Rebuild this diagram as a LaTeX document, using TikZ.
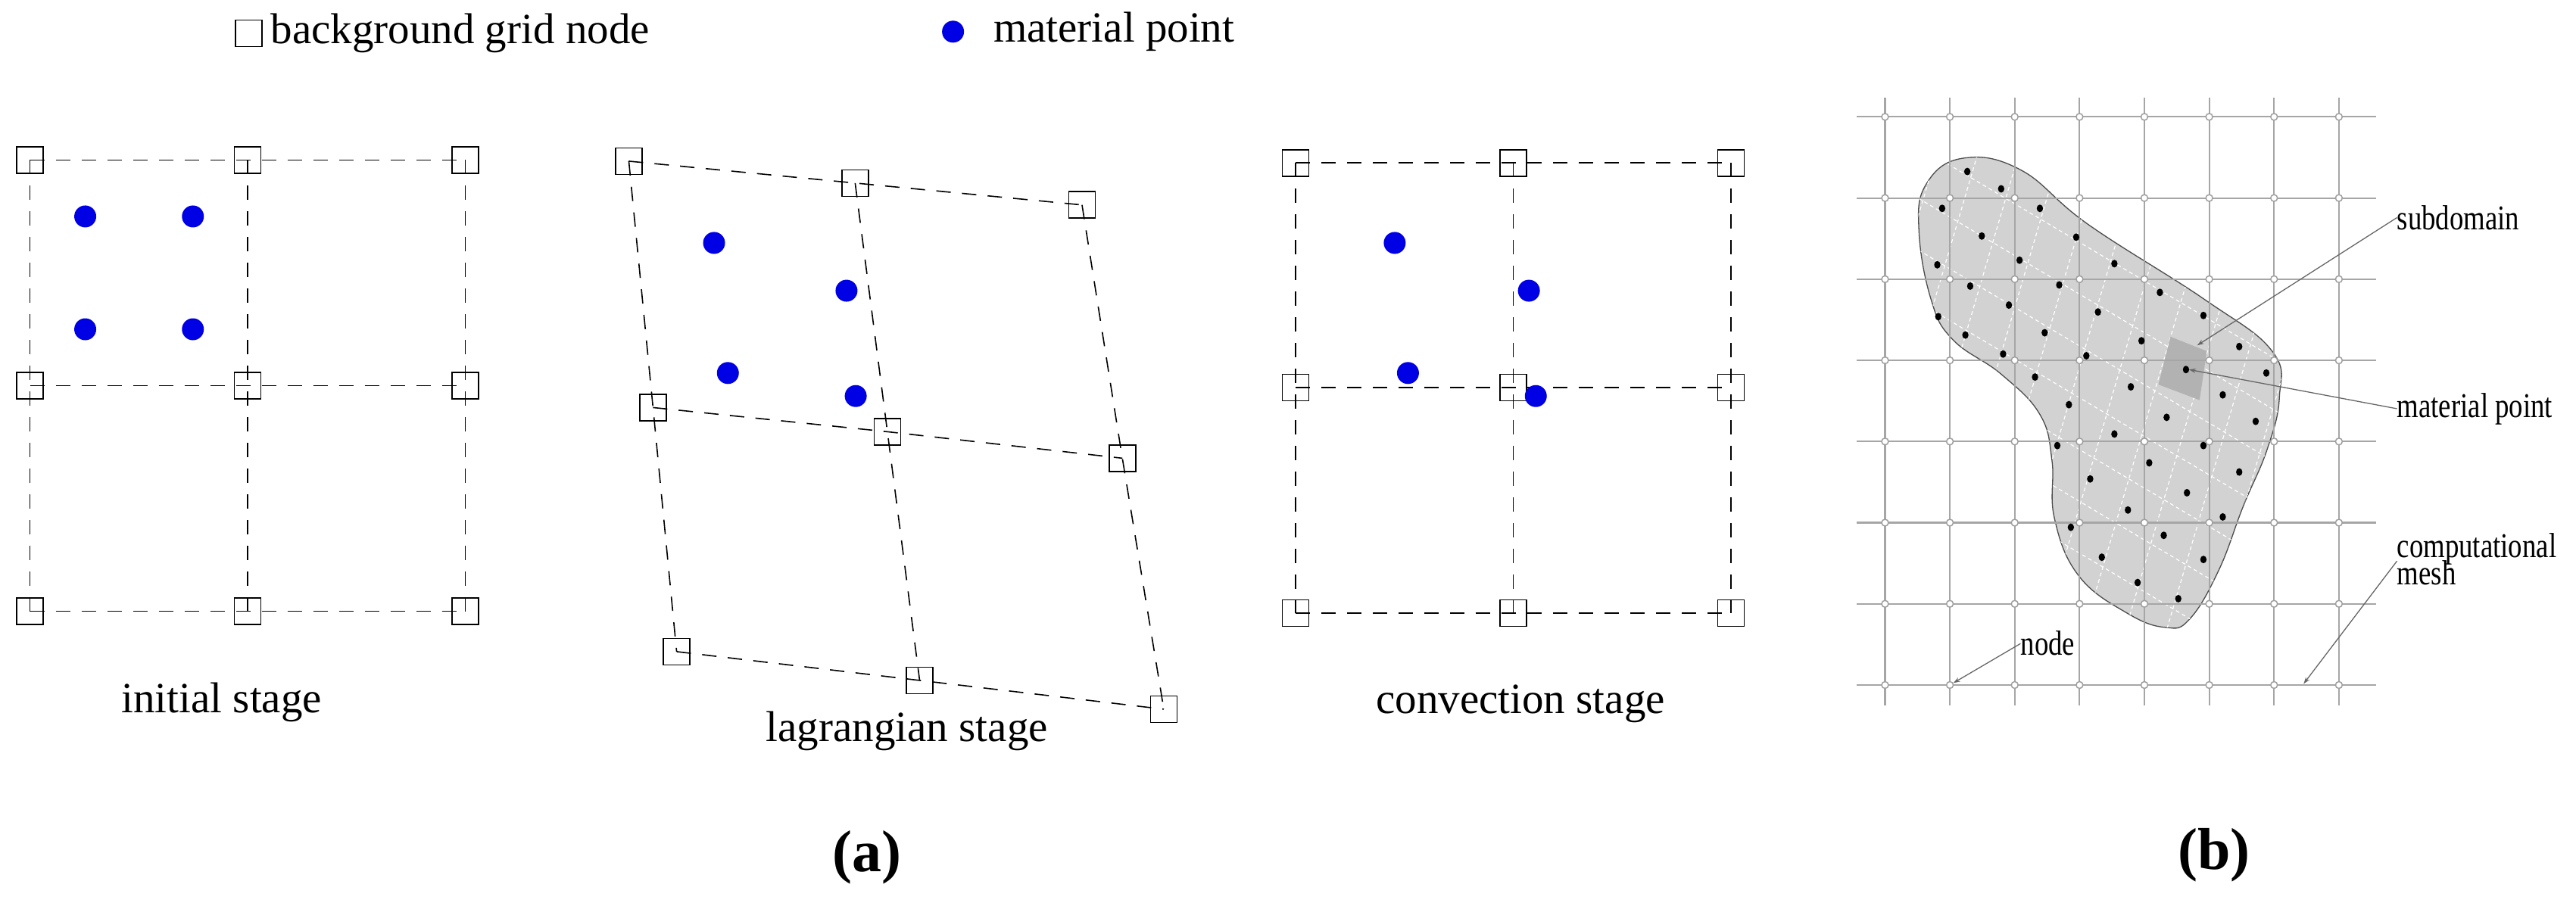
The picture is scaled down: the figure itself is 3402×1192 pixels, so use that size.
\documentclass[tikz,border=0pt]{standalone}
\usepackage{fontspec}
\setmainfont{Liberation Serif}
\usetikzlibrary{arrows.meta}
\begin{document}
\begin{tikzpicture}[x=1pt,y=-1pt,
  gn/.style={draw,line width=1.6pt,minimum size=35pt,inner sep=0pt},
  gl/.style={line width=1.6pt,dash pattern=on 19pt off 15pt},
  mp/.style={fill=blue!90!black},
  lbl/.style={font=\rmfamily\fontsize{57}{60}\selectfont},
  sub/.style={font=\rmfamily\fontsize{78}{80}\selectfont\bfseries},
  mn/.style={circle,draw=gray!75,fill=white,line width=1.5pt,minimum size=9pt,inner sep=0pt},
  ml/.style={draw=gray!70,line width=2.2pt},
  bl/.style={font=\rmfamily\fontsize{46}{44}\selectfont,anchor=west,inner sep=0pt},
  lead/.style={draw=gray!80!black,line width=1.3pt,-{Stealth[length=9pt,width=6pt]}},
  md/.style={fill=black}]
\useasboundingbox (0,0) rectangle (3402,1192);
% ---------- (a) ----------
\begin{scope}[x=0.7605pt,y=-0.7605pt]
\node[gn] (lg) at (432,58) {};
\node[lbl,anchor=west,inner sep=0pt] (lgt) at (470,58) {background grid node};
\fill[mp] (1655,55) circle (14.5pt);
\node[lbl,anchor=west,inner sep=0pt] (lmt) at (1725,55) {material point};
\foreach \p/\xa/\ya/\xb/\yb/\xc/\yc/\xd/\yd/\xe/\ye/\xf/\yf/\xg/\yg/\xh/\yh/\xi/\yi in
 {i/52/278/430/278/808/278/52/670/430/670/808/670/52/1062/430/1062/808/1062,
  l/1092/280/1485/318/1879/356/1134/708/1541/750/1949/796/1175/1132/1597/1182/2021/1232,
  c/2250/283/2628/283/3006/283/2250/673/2628/673/3006/673/2250/1065/2628/1065/3006/1065}{
  \node[gn] (\p1) at (\xa,\ya) {};
  \node[gn] (\p2) at (\xb,\yb) {};
  \node[gn] (\p3) at (\xc,\yc) {};
  \node[gn] (\p4) at (\xd,\yd) {};
  \node[gn] (\p5) at (\xe,\ye) {};
  \node[gn] (\p6) at (\xf,\yf) {};
  \node[gn] (\p7) at (\xg,\yg) {};
  \node[gn] (\p8) at (\xh,\yh) {};
  \node[gn] (\p9) at (\xi,\yi) {};
  \draw[gl] (\p1.center)--(\p2.center)--(\p3.center) (\p4.center)--(\p5.center)--(\p6.center)
     (\p7.center)--(\p8.center)--(\p9.center)
     (\p1.center)--(\p4.center)--(\p7.center) (\p2.center)--(\p5.center)--(\p8.center)
     (\p3.center)--(\p6.center)--(\p9.center);
}
\foreach \x/\y in {148/376,335/376,148/572,335/572,1240/422,1470/505,1264/648,1486/688,
  2422/422,2655/505,2445/648,2667/688}
  \fill[mp] (\x,\y) circle (14.5pt);
\node[lbl] (ti) at (385,1220) {initial stage};
\node[lbl] (tl) at (1575,1270) {lagrangian stage};
\node[lbl,anchor=west] (tc) at (2385,1222) {convection stage};
\node[sub] (la) at (1505,1490) {(a)};
\end{scope}
% ---------- (b) ----------
\begin{scope}[shift={(2400,0)},x=0.639pt,y=-0.7605pt]
\fill[gray!35,draw=gray!60!black,line width=1.3pt] plot[smooth cycle,tension=0.7] coordinates{
 (300,275)(420,295)(560,390)(800,520)(940,610)(955,690)(930,780)(880,880)(830,990)(770,1075)
 (720,1090)(640,1065)(540,1000)(490,900)(485,800)(460,720)(380,650)(280,590)(235,520)(210,400)(225,320)};
\begin{scope}
\clip plot[smooth cycle,tension=0.7] coordinates{
 (300,275)(420,295)(560,390)(800,520)(940,610)(955,690)(930,780)(880,880)(830,990)(770,1075)
 (720,1090)(640,1065)(540,1000)(490,900)(485,800)(460,720)(380,650)(280,590)(235,520)(210,400)(225,320)};
\foreach \k in {-8,...,10}
  \draw[white,line width=1.2pt,dash pattern=on 5pt off 4pt] (100,200+90*\k)--(1100,700+90*\k);
\foreach \k in {-3,...,12}
  \draw[white,line width=1.2pt,dash pattern=on 5pt off 4pt] (100+85*\k,200)--(-250+85*\k,1200);
\fill[gray!60] (730,585)--(805,610)--(790,695)--(705,668)--cycle;
\end{scope}
\foreach \i in {1,...,8}{
  \pgfmathsetmacro\xx{140+134*(\i-1)}
  \draw[ml] (\xx,170)--(\xx,1225);}
\foreach \j in {1,...,8}{
  \pgfmathsetmacro\yy{203+141*(\j-1)}
  \draw[ml] (82,\yy)--(1155,\yy);}
\foreach \i in {1,...,8}
  \foreach \j in {1,...,8}{
    \pgfmathsetmacro\xx{140+134*(\i-1)}
    \pgfmathsetmacro\yy{203+141*(\j-1)}
    \node[mn] (n\i-\j) at (\xx,\yy) {};}
\foreach \x/\y in {310/298,380/328,258/362,460/362,340/410,535/412,248/460,418/452,614/458,
 316/497,500/495,708/508,396/530,580/542,798/548,250/550,306/582,470/578,670/592,872/602,
 384/615,556/618,762/642,928/648,450/655,648/672,838/686,520/703,722/725,906/732,614/754,
 496/774,798/774,686/804,872/820,564/832,764/856,642/886,838/898,524/916,716/930,588/968,
 798/972,662/1012,746/1040}
  \fill[md] (\x,\y) ellipse (4.2pt and 5pt);
\coordinate (mpt) at (768,642);
\coordinate (sdp) at (785,600);
\coordinate (meshp) at (1005,1188);
\node[bl] (tsd) at (1198,378) {\scalebox{0.8}[1]{subdomain}};
\node[bl] (tmp) at (1198,710) {\scalebox{0.8}[1]{material point}};
\node[bl,align=left] (tcm) at (1198,972) {\scalebox{0.8}[1]{computational}\\[-8pt]\scalebox{0.8}[1]{mesh}};
\node[bl] (tnd) at (420,1118) {\scalebox{0.8}[1]{node}};
\draw[lead] (tsd.west)--(sdp);
\draw[lead] (tmp.west)--(mpt);
\draw[lead] ([yshift=-2pt]tcm.west)--(meshp);
\draw[lead] (tnd.west)--(n2-8);
\node[sub] (lb) at (820,1485) {(b)};
\end{scope}
\end{tikzpicture}
\end{document}
